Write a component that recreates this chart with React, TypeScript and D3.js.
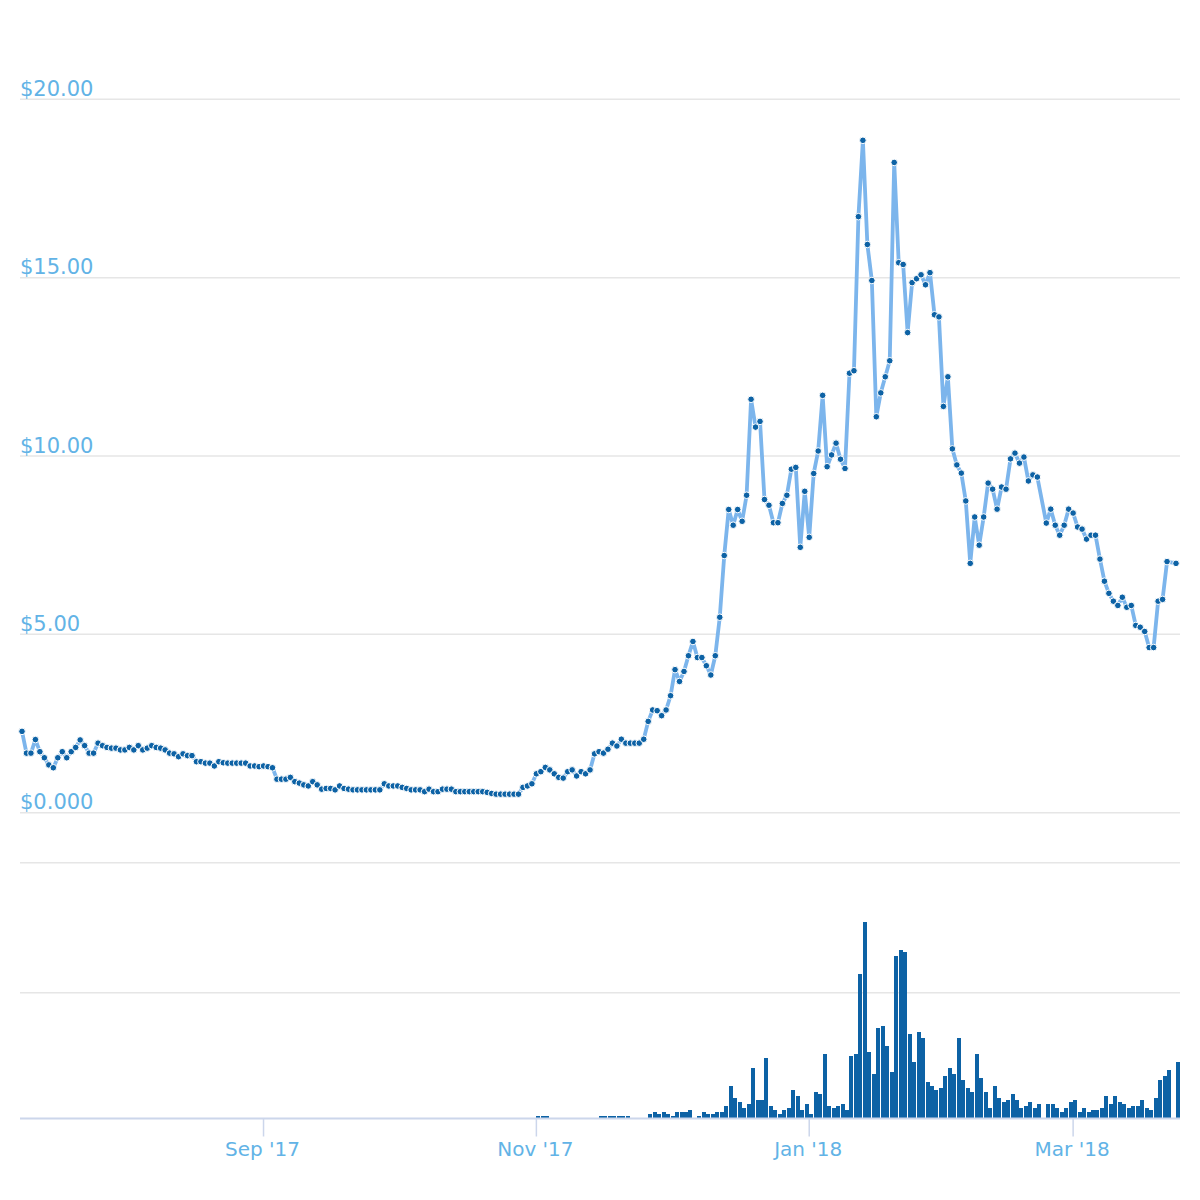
import React from "react";
import * as d3 from "d3";

// ---- data ----
const priceStart = "2017-07-09";
const prices: (number | null)[] = [
  2.28, 1.67, 1.67, 2.05, 1.71, 1.54, 1.34, 1.26, 1.54, 1.71,
  1.54, 1.71, 1.83, 2.04, 1.88, 1.67, 1.67, 1.95, 1.88, 1.83,
  1.81, 1.81, 1.76, 1.76, 1.83, 1.76, 1.88, 1.76, 1.81, 1.88,
  1.83, 1.81, 1.76, 1.67, 1.65, 1.57, 1.65, 1.6, 1.6, 1.43,
  1.43, 1.39, 1.39, 1.31, 1.43, 1.4, 1.39, 1.39, 1.39, 1.39,
  1.39, 1.31, 1.31, 1.29, 1.31, 1.29, 1.26, 0.94, 0.94, 0.94,
  0.99, 0.87, 0.83, 0.78, 0.75, 0.87, 0.78, 0.66, 0.68, 0.68,
  0.64, 0.75, 0.68, 0.66, 0.64, 0.64, 0.64, 0.64, 0.64, 0.64,
  0.64, 0.81, 0.75, 0.75, 0.75, 0.71, 0.68, 0.64, 0.64, 0.64,
  0.59, 0.66, 0.59, 0.59, 0.66, 0.66, 0.66, 0.59, 0.59, 0.59,
  0.59, 0.59, 0.59, 0.59, 0.57, 0.54, 0.52, 0.52, 0.52, 0.52,
  0.52, 0.52, 0.71, 0.75, 0.81, 1.09, 1.15, 1.27, 1.2, 1.09,
  0.99, 0.97, 1.15, 1.2, 1.03, 1.15, 1.09, 1.2, 1.65, 1.71,
  1.67, 1.78, 1.95, 1.87, 2.06, 1.95, 1.95, 1.95, 1.95, 2.06,
  2.56, 2.88, 2.86, 2.72, 2.88, 3.28, 4.01, 3.68, 3.96, 4.4,
  4.8, 4.35, 4.35, 4.12, 3.86, 4.4, 5.48, 7.21, 8.5, 8.06,
  8.5, 8.17, 8.9, 11.59, 10.81, 10.97, 8.78, 8.62, 8.13, 8.13,
  8.67, 8.9, 9.63, 9.68, 7.44, 9.01, 7.72, 9.51, 10.14, 11.7,
  9.7, 10.03, 10.36, 9.91, 9.65, 12.32, 12.39, 16.71, 18.85, 15.93,
  14.92, 11.1, 11.77, 12.22, 12.67, 18.23, 15.42, 15.37, 13.46, 14.86,
  14.97, 15.08, 14.8, 15.14, 13.96, 13.9, 11.39, 12.22, 10.2, 9.75,
  9.52, 8.74, 6.99, 8.29, 7.5, 8.29, 9.24, 9.07, 8.51, 9.13,
  9.07, 9.92, 10.08, 9.8, 9.97, 9.3, 9.47, 9.41, null, 8.12,
  8.51, 8.06, 7.78, 8.06, 8.51, 8.4, 8.01, 7.95, 7.67, 7.78,
  7.78, 7.11, 6.49, 6.15, 5.93, 5.81, 6.04, 5.76, 5.81, 5.25,
  5.2, 5.08, 4.63, 4.63, 5.93, 5.98, 7.04, null, 6.99,
];

const volumeStart = "2017-11-01";
const volumes: (number | null)[] = [
  0.013, 0.013, 0.013,
  0, 0, 0, 0, 0, 0, 0, 0, 0, 0, 0,
  0.013, 0.013, 0.013, 0.013, 0.013, 0.013, 0.013,
  0, 0, 0, 0,
  0.029, 0.045, 0.029, 0.045, 0.029, 0.013, 0.045, 0.045, 0.045, 0.061,
  0, 0.013, 0.045, 0.029, 0.029, 0.045, 0.045, 0.093, 0.253, 0.157,
  0.125, 0.077, 0.109, 0.397, 0.141, 0.141, 0.477, 0.093, 0.061, 0.029,
  0.061, 0.077, 0.221, 0.173, 0.061, 0.109, 0.029, 0.205, 0.189, 0.509,
  0.093, 0.077, 0.093, 0.109, 0.061, 0.493, 0.509, 1.149, 1.565, 0.525,
  0.349, 0.717, 0.733, 0.573, 0.365, 1.293, 1.341, 1.325, 0.669, 0.445,
  0.685, 0.637, 0.285, 0.253, 0.221, 0.237, 0.333, 0.397, 0.349, 0.637,
  0.301, 0.237, 0.205, 0.509, 0.317, 0.205, 0.077, 0.253, 0.157, 0.125,
  0.141, 0.189, 0.141, 0.077, 0.093, 0.125, 0.077, 0.109, null, 0.109,
  0.109, 0.077, 0.045, 0.077, 0.125, 0.141, 0.045, 0.077, 0.045, 0.061,
  0.061, 0.077, 0.173, 0.109, 0.173, 0.125, 0.109, 0.077, 0.093, 0.093,
  0.141, 0.077, 0.061, 0.157, 0.301, 0.333, 0.381, null, 0.445,
];

const priceTicks = [0, 5, 10, 15, 20];
const priceTickLabels = ["$0.000", "$5.00", "$10.00", "$15.00", "$20.00"];
const volumeTicks = [1];
const xTickDates = ["2017-09-01", "2017-11-01", "2018-01-01", "2018-03-01"];
const xTickLabels = ["Sep '17", "Nov '17", "Jan '18", "Mar '18"];

// ---- style ----
const LINE_COLOR = "#7cb5ec";
const DARK = "#0d62a5";
const GRID = "#e6e6e6";
const AXIS = "#ccd6eb";
const LABEL = "#62b3e6";
const FONT = "'DejaVu Sans', Verdana, sans-serif";

export default function App() {
  const W = 1200;
  const H = 1200;
  const plotLeft = 20;
  const plotRight = 1180;

  const parse = (s: string) => new Date(s + "T00:00:00Z");
  const t0 = parse(priceStart);
  const priceDates = prices.map((_, i) => d3.utcDay.offset(t0, i));
  const v0 = parse(volumeStart);
  const volumeDates = volumes.map((_, i) => d3.utcDay.offset(v0, i));

  const x = d3
    .scaleUtc()
    .domain([t0, priceDates[priceDates.length - 1]])
    .range([22, 1176]);

  const yPrice = d3.scaleLinear().domain([0, 20]).range([812.7, 99.3]);
  const yVol = d3.scaleLinear().domain([0, 1]).range([1117.7, 992.7]);
  const volPaneTop = 862.7;
  const axisY = 1118.5;

  const pts = prices
    .map((p, i) => ({ d: priceDates[i], p }))
    .filter((o) => o.p !== null) as { d: Date; p: number }[];

  const line = d3
    .line<{ d: Date; p: number }>()
    .x((o) => x(o.d))
    .y((o) => yPrice(o.p));

  const bars = volumes
    .map((v, i) => ({ d: volumeDates[i], v }))
    .filter((o) => o.v !== null && (o.v as number) > 0) as { d: Date; v: number }[];

  return (
    <svg
      width={W}
      height={H}
      style={{ position: "absolute", left: 0, top: 0, display: "block", background: "#fff" }}
    >
      {/* price gridlines */}
      {priceTicks.map((t) => (
        <line
          key={"pg" + t}
          x1={plotLeft}
          x2={plotRight}
          y1={yPrice(t)}
          y2={yPrice(t)}
          stroke={GRID}
          strokeWidth={1.5}
        />
      ))}
      {priceTicks.map((t, i) => (
        <text
          key={"pl" + t}
          x={plotLeft}
          y={yPrice(t) - 3.5}
          fill={LABEL}
          fontFamily={FONT}
          fontSize={21}
        >
          {priceTickLabels[i]}
        </text>
      ))}

      {/* volume pane gridlines */}
      <line x1={plotLeft} x2={plotRight} y1={volPaneTop} y2={volPaneTop} stroke={GRID} strokeWidth={1.5} />
      {volumeTicks.map((t) => (
        <line
          key={"vg" + t}
          x1={plotLeft}
          x2={plotRight}
          y1={yVol(t)}
          y2={yVol(t)}
          stroke={GRID}
          strokeWidth={1.5}
        />
      ))}

      {/* volume bars */}
      <g shapeRendering="crispEdges">
        {bars.map((b, i) => (
          <rect
            key={"b" + i}
            x={Math.round(x(b.d))}
            y={yVol(b.v)}
            width={4}
            height={Math.max(0, yVol(0) - yVol(b.v))}
            fill={DARK}
          />
        ))}
      </g>

      {/* x axis */}
      <line x1={plotLeft} x2={plotRight} y1={axisY} y2={axisY} stroke={AXIS} strokeWidth={2} />
      {xTickDates.map((s, i) => {
        const xx = x(parse(s));
        return (
          <g key={"xt" + s}>
            <line x1={xx} x2={xx} y1={axisY} y2={axisY + 18} stroke={AXIS} strokeWidth={1.5} />
            <text
              x={xx - 1}
              y={1156}
              textAnchor="middle"
              fill={LABEL}
              fontFamily={FONT}
              fontSize={20}
            >
              {xTickLabels[i]}
            </text>
          </g>
        );
      })}

      {/* price line */}
      <path
        d={line(pts) || ""}
        fill="none"
        stroke={LINE_COLOR}
        strokeWidth={3.8}
        strokeLinejoin="round"
        strokeLinecap="round"
      />
      {pts.map((o, i) => (
        <circle
          key={"m" + i}
          cx={x(o.d)}
          cy={yPrice(o.p)}
          r={3.3}
          fill={DARK}
          stroke="#fff"
          strokeWidth={1}
        />
      ))}
    </svg>
  );
}
